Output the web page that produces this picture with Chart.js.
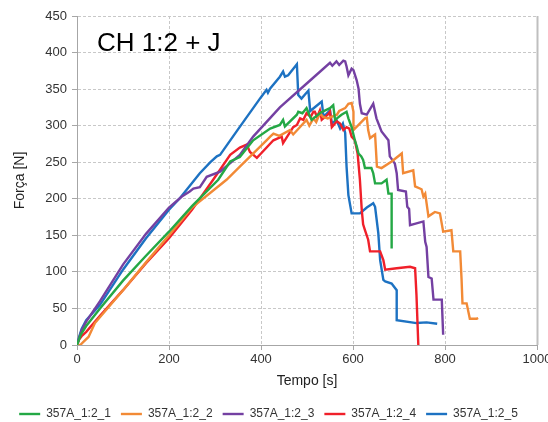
<!DOCTYPE html>
<html lang="pt">
<head>
    <meta charset="UTF-8">
    <title>CH 1:2 + J</title>
    <script src="https://cdn.jsdelivr.net/npm/chart.js"></script>
    <style>
        body {
            margin: 0;
            padding: 0;
            background-color: #ffffff;
            overflow: hidden;
        }
        .container {
            width: 548px;
            height: 422px;
            position: relative;
            overflow: hidden;
        }
    </style>
</head>
<body>
    <div class="container">
        <canvas id="forceChart" width="548" height="430"></canvas>
    </div>

    <script>
        // Tempo [s] / Força [N] for each specimen
        const seriesNames = ["357A_1:2_1", "357A_1:2_2", "357A_1:2_3", "357A_1:2_4", "357A_1:2_5"];
        const seriesColors = ["#24A845", "#F28A36", "#7440A2", "#F0202A", "#1D72C2"];

        const t1 = [0, 8, 20, 50, 100, 150, 200, 250, 307, 333, 354, 383, 420, 441, 448, 452, 478, 481, 490, 499, 503, 507, 510, 530, 550, 557, 561, 575, 586, 590, 597, 604, 608, 612, 618, 622, 626, 640, 644, 648, 662, 673, 677, 684, 684];
        const f1 = [0, 14, 26, 50, 88, 122, 155, 190, 226, 251, 257, 280, 296, 301, 308, 299, 315, 319, 317, 324, 318, 312, 308, 318, 324, 328, 308, 315, 319, 310, 298, 280, 272, 262, 258, 253, 242, 242, 235, 221, 221, 226, 207, 207, 132];

        const t2 = [0, 7, 15, 25, 39, 100, 150, 200, 250, 325, 354, 412, 420, 427, 440, 463, 470, 499, 505, 514, 520, 528, 535, 545, 565, 570, 583, 590, 597, 601, 601, 626, 630, 633, 637, 648, 652, 662, 684, 706, 709, 731, 735, 749, 753, 757, 764, 778, 789, 796, 814, 818, 833, 836, 838, 847, 854, 869, 872];
        const f2 = [0, 0, 5, 11, 30, 75, 113, 150, 188, 226, 244, 280, 285, 289, 286, 294, 288, 308, 300, 310, 305, 317, 312, 310, 315, 320, 324, 330, 331, 319, 294, 310, 311, 294, 283, 288, 244, 242, 251, 262, 235, 239, 217, 213, 203, 207, 176, 182, 180, 155, 157, 128, 128, 90, 57, 57, 36, 36, 37];

        const t3 = [0, 10, 20, 50, 100, 150, 200, 228, 245, 253, 267, 282, 311, 354, 383, 441, 500, 550, 555, 564, 570, 579, 583, 586, 590, 597, 601, 608, 612, 615, 619, 630, 644, 651, 662, 677, 680, 691, 695, 698, 715, 718, 722, 724, 753, 757, 760, 764, 771, 775, 793, 796];
        const f3 = [0, 20, 32, 60, 110, 152, 188, 203, 210, 214, 216, 230, 237, 260, 285, 325, 358, 386, 382, 388, 383, 389, 388, 381, 369, 378, 376, 362, 351, 330, 317, 315, 330, 310, 292, 280, 258, 248, 235, 212, 210, 189, 186, 164, 169, 141, 134, 93, 91, 62, 62, 14];

        const t4 = [0, 5, 10, 20, 50, 100, 150, 200, 250, 296, 333, 354, 369, 376, 391, 400, 427, 445, 448, 470, 478, 485, 492, 499, 508, 514, 517, 522, 528, 532, 545, 550, 554, 565, 572, 579, 586, 592, 597, 604, 610, 615, 619, 622, 626, 633, 637, 659, 666, 670, 695, 724, 735, 738, 742];
        const f4 = [0, 8, 12, 18, 40, 75, 112, 146, 185, 226, 260, 270, 274, 264, 256, 262, 280, 285, 276, 298, 301, 310, 308, 317, 312, 319, 319, 312, 321, 308, 315, 319, 298, 306, 303, 294, 298, 296, 285, 280, 262, 226, 185, 165, 157, 144, 128, 128, 116, 103, 105, 107, 105, 68, 0];

        const t5 = [0, 5, 10, 20, 50, 100, 150, 200, 224, 267, 290, 304, 311, 350, 400, 412, 415, 420, 441, 448, 452, 459, 478, 481, 488, 503, 507, 532, 536, 550, 554, 564, 572, 578, 583, 586, 590, 597, 615, 630, 644, 648, 655, 659, 666, 670, 684, 695, 695, 738, 760, 783];
        const f5 = [0, 12, 22, 34, 55, 103, 146, 185, 201, 235, 250, 258, 260, 295, 339, 349, 345, 351, 367, 374, 367, 369, 384, 342, 337, 348, 320, 333, 312, 321, 303, 308, 296, 303, 290, 244, 205, 180, 180, 188, 194, 189, 153, 116, 89, 87, 84, 75, 34, 30, 31, 29];

        const xTicks = [0, 200, 400, 600, 800, 1000];
        const yTicks = [0, 50, 100, 150, 200, 250, 300, 350, 400, 450];

        const times = [t1, t2, t3, t4, t5];
        const forces = [f1, f2, f3, f4, f5];

        const datasets = seriesNames.map((name, i) => ({
            label: name,
            data: times[i].map((t, k) => ({ x: t, y: forces[i][k] })),
            borderColor: seriesColors[i],
            backgroundColor: seriesColors[i],
            borderWidth: 2.4,
            pointRadius: 0,
            showLine: true,
            tension: 0,
            fill: false
        }));

        // label inside the plot and the solid frame line on the right
        const plotExtras = {
            id: "plotExtras",
            beforeDatasetsDraw(chart) {
                const ctx = chart.ctx;
                const area = chart.chartArea;
                ctx.save();
                ctx.strokeStyle = "#bfbfbf";
                ctx.lineWidth = 2;
                ctx.beginPath();
                ctx.moveTo(area.right + 0.5, area.top);
                ctx.lineTo(area.right + 0.5, area.bottom);
                ctx.stroke();
                ctx.restore();
            },
            afterDraw(chart) {
                const ctx = chart.ctx;
                const area = chart.chartArea;
                ctx.save();
                ctx.font = "26px 'Liberation Sans', Arial, sans-serif";
                ctx.fillStyle = "#000000";
                ctx.textBaseline = "middle";
                ctx.fillText("CH 1:2 + J", area.left + 20, area.top + 28);
                ctx.restore();
            }
        };

        const fontFamily = "'Liberation Sans', Arial, sans-serif";
        const tickFont = { family: fontFamily, size: 13 };

        new Chart(document.getElementById("forceChart").getContext("2d"), {
            type: "scatter",
            data: { datasets: datasets },
            plugins: [plotExtras],
            options: {
                responsive: false,
                animation: false,
                layout: { padding: { left: 0, right: 11, top: 16, bottom: 0 } },
                plugins: {
                    legend: {
                        position: "bottom",
                        labels: {
                            usePointStyle: true,
                            pointStyle: "line",
                            pointStyleWidth: 21,
                            padding: 10,
                            color: "#333333",
                            font: { family: fontFamily, size: 12 }
                        }
                    },
                    tooltip: { enabled: false }
                },
                scales: {
                    x: {
                        type: "linear",
                        min: 0,
                        max: 1000,
                        afterBuildTicks: scale => { scale.ticks = xTicks.map(v => ({ value: v })); },
                        afterFit: scale => { scale.height = 53; scale.paddingRight = 0; },
                        border: { display: true, color: "#a6a6a6", width: 1, dash: [3, 2] },
                        grid: { color: "#c8c8c8", tickLength: 5, tickColor: "#a6a6a6", tickBorderDash: [] },
                        ticks: { color: "#333333", font: tickFont, padding: 2, callback: v => String(v) },
                        title: {
                            display: true,
                            text: "Tempo [s]",
                            color: "#222222",
                            font: { family: fontFamily, size: 14 },
                            padding: { top: 4, bottom: 8 }
                        }
                    },
                    y: {
                        type: "linear",
                        min: 0,
                        max: 450,
                        afterBuildTicks: scale => { scale.ticks = yTicks.map(v => ({ value: v })); },
                        afterFit: scale => { scale.width = 77; },
                        border: { display: true, color: "#a6a6a6", width: 1, dash: [3, 2] },
                        grid: { color: "#c8c8c8", tickLength: 5, tickColor: "#a6a6a6", tickBorderDash: [] },
                        ticks: { color: "#333333", font: tickFont, padding: 5, callback: v => String(v) },
                        title: {
                            display: true,
                            text: "Força [N]",
                            color: "#222222",
                            font: { family: fontFamily, size: 14 },
                            padding: { top: 12, bottom: 0 }
                        }
                    }
                }
            }
        });
    </script>
</body>
</html>
